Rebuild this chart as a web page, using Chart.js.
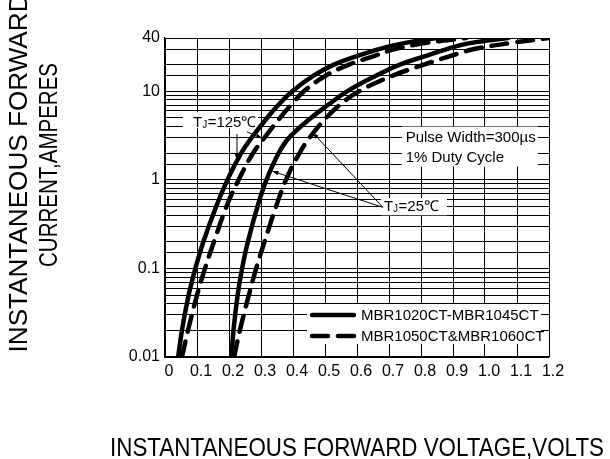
<!DOCTYPE html>
<html>
<head>
<meta charset="utf-8">
<script src="https://cdn.jsdelivr.net/npm/chart.js@4.4.1/dist/chart.umd.min.js"></script>
<style>
  html, body { margin: 0; padding: 0; background: #fff; }
  #wrap { width: 610px; height: 459px; }
</style>
</head>
<body>
<div id="wrap"><canvas id="fwdChart" width="610" height="459"></canvas></div>
<script>
// current levels (A) at which the curves were read
const currents = [0.01, 0.02, 0.05, 0.1, 0.2, 0.5, 1, 2, 3, 5, 7, 10, 15, 20, 25, 30, 35, 40];
// forward voltage (V) at each current level
const vf125Std = [0.041, 0.053, 0.074, 0.095, 0.12, 0.16, 0.195, 0.238, 0.271, 0.319, 0.354, 0.398, 0.464, 0.528, 0.6, 0.669, 0.747, 0.85];
const vf125Hv  = [0.053, 0.072, 0.1, 0.125, 0.153, 0.192, 0.23, 0.275, 0.311, 0.359, 0.394, 0.434, 0.502, 0.575, 0.653, 0.719, 0.813, 0.941];
const vf25Std  = [0.208, 0.214, 0.227, 0.241, 0.259, 0.289, 0.317, 0.355, 0.388, 0.456, 0.509, 0.569, 0.659, 0.734, 0.813, 0.881, 0.953, 1.072];
const vf25Hv   = [0.216, 0.234, 0.262, 0.285, 0.311, 0.347, 0.378, 0.42, 0.452, 0.503, 0.546, 0.606, 0.711, 0.809, 0.891, 0.966, 1.078, 1.2];

const seriesNames = ['MBR1020CT-MBR1045CT', 'MBR1050CT&MBR1060CT'];
const yLabelValues = [0.01, 0.1, 1, 10, 40];
const xMin = 0, xMax = 1.2, xStep = 0.1;
const yMin = 0.01, yMax = 40;

const FONT = '"Liberation Sans", Arial, Helvetica, sans-serif';
const DASH = [16, 10];

function pts(vs) {
  return vs.map((v, i) => ({ x: v, y: currents[i] }));
}

function curve(label, vs, dashed) {
  return {
    label: label,
    data: pts(vs),
    borderColor: '#000',
    borderWidth: 4.5,
    borderDash: dashed ? DASH : [],
    borderCapStyle: 'round',
    borderJoinStyle: 'round',
    pointRadius: 0,
    fill: false,
    tension: 0.4
  };
}

// text squeezed/stretched horizontally to a given width
function fitText(ctx, text, x, y, width, size, align, rot) {
  ctx.save();
  ctx.font = size + 'px ' + FONT;
  const w = ctx.measureText(text).width;
  ctx.translate(x, y);
  if (rot) ctx.rotate(rot);
  ctx.scale(width ? width / w : 1, 1);
  ctx.textAlign = align || 'center';
  ctx.textBaseline = 'alphabetic';
  ctx.fillStyle = '#000';
  ctx.fillText(text, 0, 0);
  ctx.restore();
}

// "TJ=..." with small J
function tjLabel(ctx, left, base, tail, size) {
  ctx.save();
  ctx.fillStyle = '#000';
  ctx.textAlign = 'left';
  ctx.textBaseline = 'alphabetic';
  ctx.font = size + 'px ' + FONT;
  ctx.fillText('T', left, base);
  let x = left + ctx.measureText('T').width;
  ctx.font = Math.round(size * 0.68) + 'px ' + FONT;
  ctx.fillText('J', x, base + 1);
  x += ctx.measureText('J').width + 0.5;
  ctx.font = size + 'px ' + FONT;
  ctx.fillText(tail, x, base);
  ctx.restore();
}

function leader(ctx, x1, y1, x2, y2, head) {
  ctx.save();
  ctx.strokeStyle = '#000';
  ctx.fillStyle = '#000';
  ctx.lineWidth = 1;
  ctx.beginPath();
  ctx.moveTo(x1, y1);
  ctx.lineTo(x2, y2);
  ctx.stroke();
  if (head) {
    const a = Math.atan2(y2 - y1, x2 - x1);
    ctx.beginPath();
    ctx.moveTo(x2, y2);
    ctx.lineTo(x2 - 6 * Math.cos(a) + 2.2 * Math.sin(a), y2 - 6 * Math.sin(a) - 2.2 * Math.cos(a));
    ctx.lineTo(x2 - 6 * Math.cos(a) - 2.2 * Math.sin(a), y2 - 6 * Math.sin(a) + 2.2 * Math.cos(a));
    ctx.closePath();
    ctx.fill();
  }
  ctx.restore();
}

const notes = {
  id: 'notes',
  beforeDatasetsDraw(chart) {
    const { ctx, chartArea: a, scales: { x, y } } = chart;
    ctx.save();
    ctx.fillStyle = '#fff';
    // label boxes hide the grid behind text
    ctx.fillRect(x.getPixelForValue(0.056), y.getPixelForValue(5.8), 75, 16);   // TJ=125
    ctx.fillRect(x.getPixelForValue(0.74), y.getPixelForValue(4.0), 136, 40);   // pulse
    ctx.fillRect(x.getPixelForValue(0.675), y.getPixelForValue(0.62), 66, 17);  // TJ=25
    ctx.fillRect(a.right - 242, a.bottom - 53, 234, 40);                          // legend
    ctx.restore();
  },
  afterDatasetsDraw(chart) {
    const { ctx, chartArea: a, scales: { x, y } } = chart;
    const P = (v, i) => [x.getPixelForValue(v), y.getPixelForValue(i)];

    // TJ = 125
    let [lx, ly] = P(0.0875, 4.5);
    tjLabel(ctx, lx, ly + 5, '=125\u2103', 15);
    let s = P(0.225, 3.3), e = P(0.225, 1.68);
    leader(ctx, s[0], s[1], e[0], e[1], true);
    s = P(0.256, 3.48); e = P(0.304, 2.95);
    leader(ctx, s[0], s[1], e[0], e[1], true);

    // TJ = 25
    [lx, ly] = P(0.681, 0.51);
    tjLabel(ctx, lx + 1, ly + 5, '=25\u2103', 15);
    s = P(0.681, 0.49); e = P(0.336, 1.25);
    leader(ctx, s[0], s[1], e[0], e[1], true);
    e = P(0.462, 3.4);
    leader(ctx, s[0], s[1], e[0], e[1], true);

    // pulse note
    [lx, ly] = P(0.752, 3.05);
    fitText(ctx, 'Pulse Width=300\u00b5s', lx, ly + 5, 130, 15, 'left');
    [lx, ly] = P(0.752, 1.82);
    fitText(ctx, '1% Duty Cycle', lx, ly + 5, 0, 15, 'left');

    // legend
    const ds = chart.data.datasets;
    const rows = [a.bottom - 42, a.bottom - 21];
    rows.forEach((ry, k) => {
      ctx.save();
      ctx.strokeStyle = '#000';
      ctx.lineWidth = ds[k].borderWidth;
      ctx.lineCap = 'round';
      ctx.setLineDash(ds[k].borderDash);
      ctx.beginPath();
      ctx.moveTo(a.right - 237, ry);
      ctx.lineTo(a.right - 195, ry);
      ctx.stroke();
      ctx.restore();
      fitText(ctx, seriesNames[k], a.right - 188, ry + 5, 0, 15, 'left');
    });
  },
  afterDraw(chart) {
    const ctx = chart.ctx;
    fitText(ctx, 'INSTANTANEOUS FORWARD', 27, 173, 359, 26, 'center', -Math.PI / 2);
    fitText(ctx, 'CURRENT,AMPERES', 57, 165, 204, 26, 'center', -Math.PI / 2);
    fitText(ctx, 'INSTANTANEOUS FORWARD VOLTAGE,VOLTS', 357, 456, 494, 26, 'center');
  }
};

new Chart(document.getElementById('fwdChart').getContext('2d'), {
  type: 'line',
  data: {
    datasets: [
      curve(seriesNames[0], vf125Std, false),
      curve(seriesNames[1], vf125Hv, true),
      curve(seriesNames[0] + ' 25', vf25Std, false),
      curve(seriesNames[1] + ' 25', vf25Hv, true)
    ]
  },
  options: {
    responsive: false,
    animation: false,
    devicePixelRatio: 1,
    layout: { padding: { top: 38, right: 61, left: 0, bottom: 0 } },
    plugins: {
      legend: { display: false },
      tooltip: { enabled: false },
      title: { display: false }
    },
    scales: {
      x: {
        type: 'linear',
        min: xMin,
        max: xMax,
        afterFit(s) { s.height = 102; },
        grid: { color: '#000', lineWidth: 1, drawTicks: false },
        border: { color: '#000', width: 1.2 },
        ticks: {
          stepSize: xStep,
          autoSkip: false,
          maxRotation: 0,
          padding: 5,
          labelOffset: 4,
          color: '#000',
          font: { family: FONT, size: 16 },
          callback: v => (Math.abs(v) < 1e-9 ? '0' : Number(v).toFixed(1))
        }
      },
      y: {
        type: 'logarithmic',
        min: yMin,
        max: yMax,
        afterFit(s) { s.width = 165; },
        grid: { color: '#000', lineWidth: 1, drawTicks: false },
        border: { color: '#000', width: 1.2 },
        ticks: {
          autoSkip: false,
          padding: 5,
          color: '#000',
          font: { family: FONT, size: 16 },
          callback: v => {
            const hit = yLabelValues.find(t => Math.abs(t - v) / t < 1e-6);
            return hit === undefined ? '' : String(hit);
          }
        }
      }
    }
  },
  plugins: [notes]
});
</script>
</body>
</html>
